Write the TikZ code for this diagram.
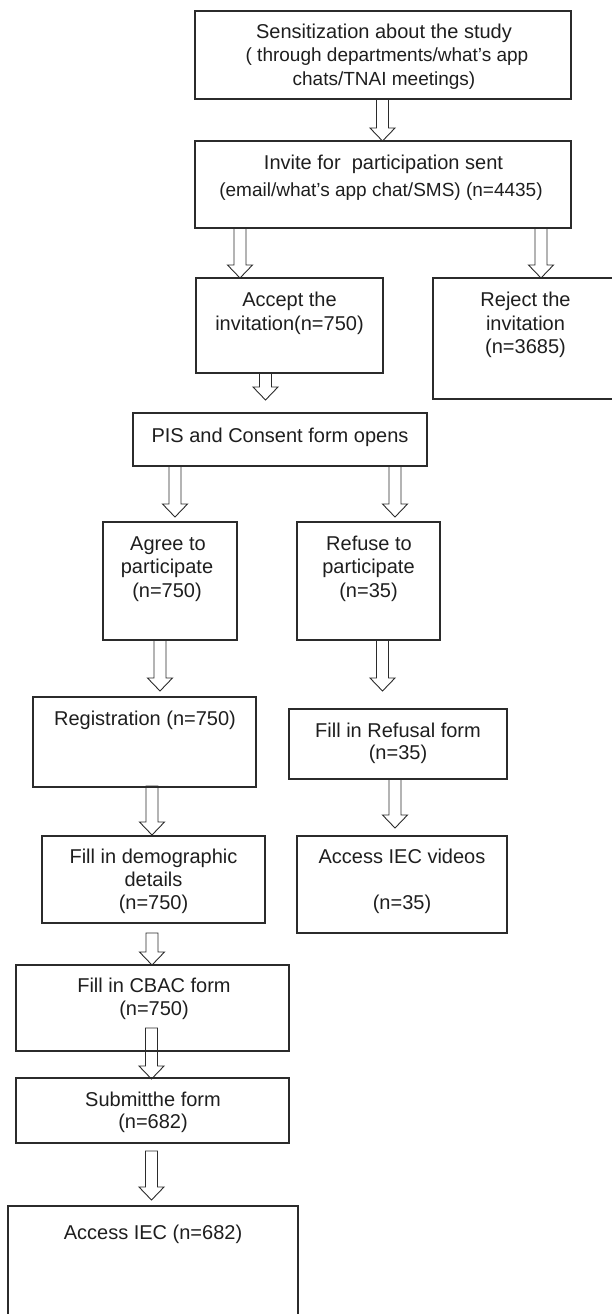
\documentclass[tikz,border=0pt]{standalone}
\usepackage{fontspec}
\setmainfont{Liberation Sans}
\usetikzlibrary{calc,fit}
\definecolor{ln}{HTML}{2B2B2B}
\definecolor{tx}{HTML}{1E1E1E}
\tikzset{
  box/.style={draw=ln, line width=1.3pt, inner sep=0pt, outer sep=0pt},
  txt/.style={text=tx, font=\fontsize{20}{23}\selectfont, inner sep=0pt, anchor=base},
  stxt/.style={txt, font=\fontsize{19}{22}\selectfont},
  arr/.style={draw=ln, line width=0.9pt, line join=miter},
}
% hollow block arrow: x, from node, to node, start shift (down), tip gap (up)
\newcommand{\barrow}[5]{%
  \coordinate (ta) at ($(#1,0 |- #2.south)+(0,#4)$);
  \coordinate (tb) at ($(#1,0 |- #3.north)+(0,-#5)$);
  \draw[arr] ($(ta)+(-6,0)$) -- ($(tb)+(-6,-13)$) -- ($(tb)+(-12.5,-13)$) -- (tb)
    -- ($(tb)+(12.5,-13)$) -- ($(tb)+(6,-13)$) -- ($(ta)+(6,0)$) -- cycle;
}
\begin{document}
\begin{tikzpicture}[x=1pt,y=-1pt]
\useasboundingbox (0,0) rectangle (612,1314);
\clip (0,0) rectangle (612,1314);

% boxes
\node[box, fit={(195,11) (571,99)}] (b1) {};
\node[box, fit={(195,141) (571,228)}] (b2) {};
\node[box, fit={(196,278) (383,373)}] (acc) {};
\node[box, fit={(433,278) (618,399)}] (rej) {};
\node[box, fit={(133,413) (427,466)}] (pis) {};
\node[box, fit={(103,522) (237,640)}] (agr) {};
\node[box, fit={(297,522) (440,640)}] (ref) {};
\node[box, fit={(33,697) (256,787)}] (reg) {};
\node[box, fit={(289,709) (507,779)}] (rfm) {};
\node[box, fit={(42,836) (265,923)}] (dem) {};
\node[box, fit={(297,836) (507,933)}] (iev) {};
\node[box, fit={(16,965) (289,1051)}] (cbac) {};
\node[box, fit={(16,1078) (289,1143)}] (sub) {};
\node[box, fit={(8,1206) (298,1340)}] (acs) {};

% texts
\node[txt]  (t1a) at (384,39) {Sensitization about the study};
\node[stxt] (t1b) at (387,62) {( through departments/what’s app};
\node[stxt] (t1c) at (384,85) {chats/TNAI meetings)};
\node[txt]  (t2a) at (383.5,169) {Invite for\ \ participation sent};
\node[stxt] (t2b) at (381,196) {(email/what’s app chat/SMS) (n=4435)};
\node[txt] (t3a) at (289.5,306) {Accept the};
\node[txt] (t3b) at (289.5,330) {invitation(n=750)};
\node[txt] (t4a) at (525.5,306) {Reject the};
\node[txt] (t4b) at (525.5,330) {invitation};
\node[txt] (t4c) at (525.5,353) {(n=3685)};
\node[txt] (t5) at (280,442) {PIS and Consent form opens};
\node[txt] (t6a) at (168,550) {Agree to};
\node[txt] (t6b) at (167,573) {participate};
\node[txt] (t6c) at (167,597) {(n=750)};
\node[txt] (t7a) at (369,550) {Refuse to};
\node[txt] (t7b) at (368.5,573) {participate};
\node[txt] (t7c) at (368.5,597) {(n=35)};
\node[txt] (t8) at (145,725) {Registration (n=750)};
\node[txt] (t9a) at (398,737) {Fill in Refusal form};
\node[txt] (t9b) at (398,759) {(n=35)};
\node[txt] (t10a) at (153.5,863) {Fill in demographic};
\node[txt] (t10b) at (153.5,886) {details};
\node[txt] (t10c) at (153.5,909) {(n=750)};
\node[txt] (t11a) at (402,863) {Access IEC videos};
\node[txt] (t11b) at (402,909) {(n=35)};
\node[txt] (t12a) at (154,992) {Fill in CBAC form};
\node[txt] (t12b) at (154,1015) {(n=750)};
\node[txt] (t13a) at (153,1106) {Submitthe form};
\node[txt] (t13b) at (153,1128) {(n=682)};
\node[txt] (t14) at (153,1239) {Access IEC (n=682)};

% block arrows
\barrow{382.5}{b1}{b2}{0}{0}
\barrow{240}{b2}{acc}{0}{0}
\barrow{541}{b2}{rej}{0}{0}
\barrow{265.5}{acc}{pis}{0}{13}
\barrow{175}{pis}{agr}{0}{5}
\barrow{395}{pis}{ref}{0}{5}
\barrow{160}{agr}{reg}{0}{6}
\barrow{382.5}{ref}{rfm}{0}{18}
\barrow{152}{reg}{dem}{-1}{1}
\barrow{395}{rfm}{iev}{0}{8}
\barrow{152}{dem}{cbac}{10}{0}
\barrow{151.5}{cbac}{sub}{-23}{-1}
\barrow{151.5}{sub}{acs}{8}{6}
\end{tikzpicture}
\end{document}
